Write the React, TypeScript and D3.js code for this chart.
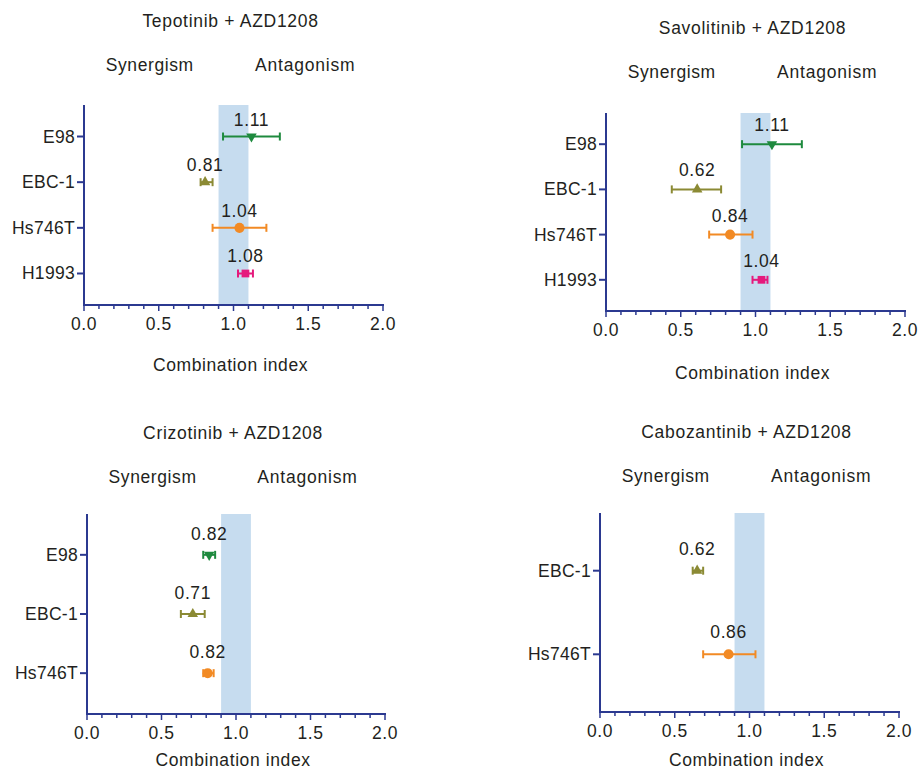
import * as d3 from "d3";

// chart data
const tepotinibCells = ["E98", "EBC-1", "Hs746T", "H1993"];
const tepotinibCI = [1.12, 0.81, 1.04, 1.08];
const tepotinibLow = [0.93, 0.78, 0.86, 1.03];
const tepotinibHigh = [1.31, 0.86, 1.22, 1.13];
const tepotinibLabels = ["1.11", "0.81", "1.04", "1.08"];

const savolitinibCells = ["E98", "EBC-1", "Hs746T", "H1993"];
const savolitinibCI = [1.11, 0.61, 0.83, 1.04];
const savolitinibLow = [0.91, 0.44, 0.69, 0.98];
const savolitinibHigh = [1.31, 0.77, 0.98, 1.08];
const savolitinibLabels = ["1.11", "0.62", "0.84", "1.04"];

const crizotinibCells = ["E98", "EBC-1", "Hs746T"];
const crizotinibCI = [0.82, 0.71, 0.81];
const crizotinibLow = [0.78, 0.63, 0.78];
const crizotinibHigh = [0.86, 0.79, 0.85];
const crizotinibLabels = ["0.82", "0.71", "0.82"];

const cabozantinibCells = ["EBC-1", "Hs746T"];
const cabozantinibCI = [0.65, 0.86];
const cabozantinibLow = [0.62, 0.69];
const cabozantinibHigh = [0.69, 1.04];
const cabozantinibLabels = ["0.62", "0.86"];

const xTicks = [0, 0.5, 1, 1.5, 2];
const additiveBand = [0.9, 1.1];

const cellColor: Record<string, string> = {
  E98: "#1e8a3e",
  "EBC-1": "#8b8a34",
  Hs746T: "#f28a24",
  H1993: "#e5197c",
};
const cellSymbol: Record<string, { type: d3.SymbolType; size: number; rot: number }> = {
  E98: { type: d3.symbolTriangle, size: 48, rot: 180 },
  "EBC-1": { type: d3.symbolTriangle, size: 48, rot: 0 },
  Hs746T: { type: d3.symbolCircle, size: 80, rot: 0 },
  H1993: { type: d3.symbolSquare, size: 60, rot: 0 },
};

const panels = [
  {
    title: "Tepotinib + AZD1208",
    cells: tepotinibCells, ci: tepotinibCI, lo: tepotinibLow, hi: tepotinibHigh, labels: tepotinibLabels,
    box: { left: 84, right: 383, top: 105, bottom: 305, titleDy: 78, xlabDy: 66, labDy: 11 },
  },
  {
    title: "Savolitinib + AZD1208",
    cells: savolitinibCells, ci: savolitinibCI, lo: savolitinibLow, hi: savolitinibHigh, labels: savolitinibLabels,
    box: { left: 606, right: 905, top: 113, bottom: 311, titleDy: 79, xlabDy: 68, labDy: 13 },
  },
  {
    title: "Crizotinib + AZD1208",
    cells: crizotinibCells, ci: crizotinibCI, lo: crizotinibLow, hi: crizotinibHigh, labels: crizotinibLabels,
    box: { left: 87, right: 385, top: 514, bottom: 714, titleDy: 75, xlabDy: 52, labDy: 15 },
  },
  {
    title: "Cabozantinib + AZD1208",
    cells: cabozantinibCells, ci: cabozantinibCI, lo: cabozantinibLow, hi: cabozantinibHigh, labels: cabozantinibLabels,
    box: { left: 600, right: 899, top: 513, bottom: 712, titleDy: 75, xlabDy: 54, labDy: 16 },
  },
];

const axisColor = "#2b3990";
const textColor = "#231f20";
const font = "'Liberation Sans', Arial, Helvetica, sans-serif";

function Panel({ p }: { p: (typeof panels)[number] }) {
  const b = p.box;
  const x = d3.scaleLinear().domain([0, 2]).range([b.left, b.right]);
  const y = d3.scalePoint<string>().domain(p.cells).range([b.top, b.bottom]).padding(0.69);
  const minor = d3.range(0, 2.0001, 0.1);

  return (
    <g>
      <text x={x(0.98)} y={b.top - b.titleDy} textAnchor="middle" fontSize={17.5} letterSpacing={0.7}>
        {p.title}
      </text>
      <text x={x(0.44)} y={b.top - b.titleDy + 44} textAnchor="middle" fontSize={17.5} letterSpacing={0.6}>
        Synergism
      </text>
      <text x={x(1.48)} y={b.top - b.titleDy + 44} textAnchor="middle" fontSize={17.5} letterSpacing={0.8}>
        Antagonism
      </text>

      {/* additivity band */}
      <rect
        x={x(additiveBand[0])}
        y={b.top}
        width={x(additiveBand[1]) - x(additiveBand[0])}
        height={b.bottom - b.top}
        fill="#c6dcef"
      />

      {/* axes */}
      <line x1={b.left} x2={b.left} y1={b.top} y2={b.bottom + 1} stroke={axisColor} strokeWidth={2} />
      <line x1={b.left} x2={b.right + 1} y1={b.bottom} y2={b.bottom} stroke={axisColor} strokeWidth={2} />
      {minor.map((v, i) => (
        <line
          key={"m" + i}
          x1={x(v)}
          x2={x(v)}
          y1={b.bottom}
          y2={b.bottom + (i % 5 === 0 ? 6 : 4)}
          stroke={axisColor}
          strokeWidth={1.5}
        />
      ))}
      {xTicks.map((t) => (
        <text key={t} x={x(t)} y={b.bottom + 25} textAnchor="middle" fontSize={17.5} letterSpacing={0.5}>
          {d3.format(".1f")(t)}
        </text>
      ))}
      {p.cells.map((c) => (
        <g key={c}>
          <line x1={b.left - 7} x2={b.left} y1={y(c)} y2={y(c)} stroke={axisColor} strokeWidth={2} />
          <text x={b.left - 9} y={y(c)! + 6} textAnchor="end" fontSize={17.5} letterSpacing={0.3}>
            {c}
          </text>
        </g>
      ))}
      <text x={x(0.98)} y={b.bottom + b.xlabDy} textAnchor="middle" fontSize={17.5} letterSpacing={0.6}>
        Combination index
      </text>

      {/* CI points with error bars */}
      {p.cells.map((c, i) => {
        const cy = y(c)!;
        const col = cellColor[c];
        const s = cellSymbol[c];
        const path = d3.symbol().type(s.type).size(s.size)()!;
        return (
          <g key={"pt" + c}>
            <line x1={x(p.lo[i])} x2={x(p.hi[i])} y1={cy} y2={cy} stroke={col} strokeWidth={2} />
            <line x1={x(p.lo[i])} x2={x(p.lo[i])} y1={cy - 4} y2={cy + 4} stroke={col} strokeWidth={2} />
            <line x1={x(p.hi[i])} x2={x(p.hi[i])} y1={cy - 4} y2={cy + 4} stroke={col} strokeWidth={2} />
            <path d={path} transform={`translate(${x(p.ci[i])},${cy}) rotate(${s.rot})`} fill={col} />
            <text x={x(p.ci[i])} y={cy - b.labDy} textAnchor="middle" fontSize={17.5} letterSpacing={0.6}>
              {p.labels[i]}
            </text>
          </g>
        );
      })}
    </g>
  );
}

export default function App() {
  return (
    <svg
      width={918}
      height={773}
      style={{ position: "absolute", left: 0, top: 0, background: "#fff" }}
      fontFamily={font}
      fill={textColor}
    >
      <rect width={918} height={773} fill="#fff" />
      {panels.map((p) => (
        <Panel key={p.title} p={p} />
      ))}
    </svg>
  );
}
